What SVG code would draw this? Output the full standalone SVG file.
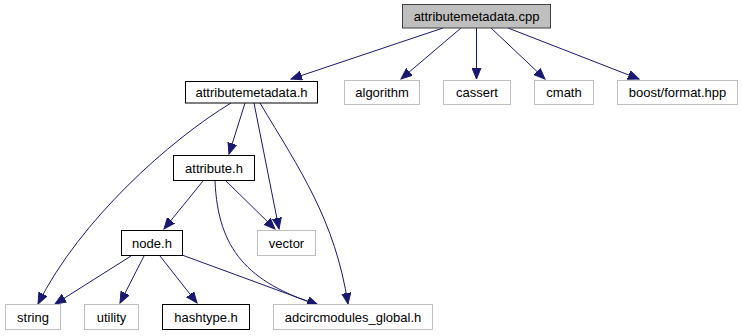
<svg xmlns="http://www.w3.org/2000/svg" width="742" height="336" viewBox="0 0 742 336">
<style>
  .node text { font-family: "Liberation Sans", Arial, sans-serif; font-size: 13px; fill: #000; text-anchor: middle; }
  .main rect { fill: #bfbfbf; stroke: #404040; stroke-width: 1; }
  .local rect { fill: #fff; stroke: #000; stroke-width: 1; }
  .sys rect { fill: #fff; stroke: #bfbfbf; stroke-width: 1; }
  #edges path { fill: none; stroke: #191970; stroke-width: 1; marker-end: url(#arrow); }
</style>
<defs>
  <marker id="arrow" markerUnits="userSpaceOnUse" markerWidth="12" markerHeight="10" viewBox="0 0 12 10" refX="11" refY="5" orient="auto">
    <path d="M0,0.5 L11,5 L0,9.5 Z" fill="#191970" stroke="#191970" stroke-width="1"/>
  </marker>
</defs>
<rect width="742" height="336" fill="#fff"/>

<g id="edges">
  <!-- attributemetadata.cpp includes -->
  <path d="M443,28 L291,79"/>
  <path d="M461,28 L401,79"/>
  <path d="M476.5,28 L476.5,79"/>
  <path d="M491,28 L545,79"/>
  <path d="M508,28 L639,79"/>
  <!-- attributemetadata.h includes -->
  <path d="M245,103 L229,154"/>
  <path d="M231,103 C170,140 80,220 38,304"/>
  <path d="M254,103 L279,229"/>
  <path d="M260,103 C300,170 335,220 348,304"/>
  <!-- attribute.h includes -->
  <path d="M203,181 L164,229"/>
  <path d="M226,181 L275,229"/>
  <path d="M215,181 C218,250 248,282 318,305"/>
  <!-- node.h includes -->
  <path d="M131,256 L55,304"/>
  <path d="M144,256 L120,303"/>
  <path d="M160,256 L197,303"/>
  <path d="M182,255 L318,305"/>
</g>

<g id="n_attributemetadata_cpp" class="node main">
  <rect x="402.5" y="4.5" width="148" height="23.5"/>
  <text x="476.5" y="21">attributemetadata.cpp</text>
</g>
<g id="n_attributemetadata_h" class="node local">
  <rect x="185.5" y="81.5" width="132" height="21.5"/>
  <text x="251.5" y="96.5">attributemetadata.h</text>
</g>
<g id="n_algorithm" class="node sys">
  <rect x="344.5" y="80.5" width="75" height="24"/>
  <text x="382" y="96.5">algorithm</text>
</g>
<g id="n_cassert" class="node sys">
  <rect x="443.5" y="80.5" width="67" height="24"/>
  <text x="477" y="96.5">cassert</text>
</g>
<g id="n_cmath" class="node sys">
  <rect x="534.5" y="80.5" width="59" height="24"/>
  <text x="564" y="96.5">cmath</text>
</g>
<g id="n_boost_format" class="node sys">
  <rect x="617.5" y="80.5" width="120" height="24"/>
  <text x="677.5" y="96.5">boost/format.hpp</text>
</g>
<g id="n_attribute_h" class="node local">
  <rect x="173.5" y="155.5" width="81" height="25"/>
  <text x="214" y="172.5">attribute.h</text>
</g>
<g id="n_node_h" class="node local">
  <rect x="121.5" y="230.5" width="61" height="25"/>
  <text x="152" y="247.5">node.h</text>
</g>
<g id="n_vector" class="node sys">
  <rect x="257.5" y="230.5" width="58" height="25"/>
  <text x="286.5" y="247.5">vector</text>
</g>
<g id="n_string" class="node sys">
  <rect x="5.5" y="304.5" width="55" height="25"/>
  <text x="33" y="321.5">string</text>
</g>
<g id="n_utility" class="node sys">
  <rect x="84.5" y="304.5" width="54" height="25"/>
  <text x="111.5" y="321.5">utility</text>
</g>
<g id="n_hashtype_h" class="node local">
  <rect x="162.5" y="304.5" width="87" height="25"/>
  <text x="206" y="321.5">hashtype.h</text>
</g>
<g id="n_adcircmodules_global_h" class="node sys">
  <rect x="273.5" y="304.5" width="159" height="25"/>
  <text x="353" y="321.5">adcircmodules_global.h</text>
</g>
</svg>
